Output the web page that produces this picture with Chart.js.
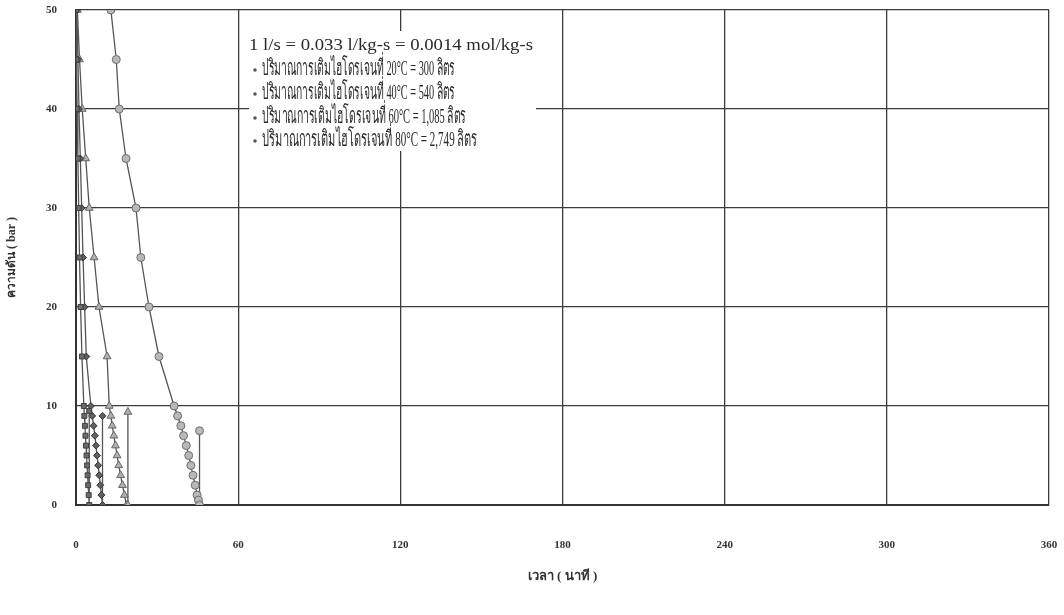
<!DOCTYPE html>
<html>
<head>
<meta charset="utf-8">
<script src="https://cdn.jsdelivr.net/npm/chart.js@4.4.1/dist/chart.umd.min.js"></script>
<style>
  html, body { margin: 0; padding: 0; background: #ffffff; }
  #wrap { width: 1064px; height: 615px; position: relative; }
</style>
</head>
<body>
<div id="wrap"><canvas id="c" width="1064" height="615"></canvas></div>
<script>
// Pressure (bar) against time (minutes) during hydrogen charging at four temperatures
const pressure20 = [50, 45, 40, 35, 30, 25, 20, 15, 10, 9, 8, 7, 6, 5, 4, 3, 2, 1, 0, 9.5];
const time20     = [0, 0.2, 0.4, 0.7, 1.0, 1.3, 1.7, 2.2, 2.9, 3.1, 3.3, 3.5, 3.7, 3.9, 4.1, 4.3, 4.5, 4.7, 4.9, 4.9];

const pressure40 = [50, 45, 40, 35, 30, 25, 20, 15, 10, 9, 8, 7, 6, 5, 4, 3, 2, 1, 0, 9];
const time40     = [0.3, 0.7, 1.1, 1.6, 2.1, 2.6, 3.2, 3.8, 5.5, 6.0, 6.5, 7.0, 7.4, 7.8, 8.2, 8.6, 9.0, 9.4, 9.8, 9.8];

const pressure60 = [50, 45, 40, 35, 30, 25, 20, 15, 10, 9, 8, 7, 6, 5, 4, 3, 2, 1, 0, 0, 9.4];
const time60     = [0.5, 1.3, 2.3, 3.6, 4.9, 6.7, 8.5, 11.5, 12.3, 12.9, 13.4, 14.0, 14.6, 15.2, 15.8, 16.5, 17.2, 17.9, 18.7, 19.2, 19.2];

const pressure80 = [50, 45, 40, 35, 30, 25, 20, 15, 10, 9, 8, 7, 6, 5, 4, 3, 2, 1, 0.5, 0, 7.5];
const time80     = [12.9, 14.9, 16.0, 18.5, 22.2, 24.0, 27.0, 30.7, 36.3, 37.6, 38.8, 39.8, 40.8, 41.7, 42.5, 43.3, 44.1, 44.8, 45.3, 45.7, 45.7];

const seriesLabels = [
  'ปริมาณการเติมไฮโดรเจนที่ 20°C = 300 ลิตร',
  'ปริมาณการเติมไฮโดรเจนที่ 40°C = 540 ลิตร',
  'ปริมาณการเติมไฮโดรเจนที่ 60°C = 1,085 ลิตร',
  'ปริมาณการเติมไฮโดรเจนที่ 80°C = 2,749 ลิตร'
];
const unitNote = '1 l/s = 0.033 l/kg-s = 0.0014 mol/kg-s';
const xTicks = [0, 60, 120, 180, 240, 300, 360];
const yTicks = [0, 10, 20, 30, 40, 50];
const xTitle = 'เวลา ( นาที )';
const yTitle = 'ความดัน ( bar )';

function pairs(t, p) { return t.map((v, i) => ({ x: v, y: p[i] })); }

const serif = "'Liberation Serif', 'DejaVu Serif', serif";
const markerStyles = [
  { pointStyle: 'rect', radius: 3.5, fill: '#6a6a6a', border: '#404040' },
  { pointStyle: 'rectRot', radius: 3.5, fill: '#606060', border: '#363636' },
  { pointStyle: 'triangle', radius: 4.5, fill: '#b0b0b0', border: '#666666' },
  { pointStyle: 'circle', radius: 4, fill: '#b8b8b8', border: '#6c6c6c' }
];
const dataSets = [pairs(time20, pressure20), pairs(time40, pressure40), pairs(time60, pressure60), pairs(time80, pressure80)];
const rowWidths = [193, 193, 204, 215];

// Legend block drawn inside the plot area on a white panel
const notePanel = {
  id: 'notePanel',
  afterDatasetsDraw(chart) {
    const ctx = chart.ctx;
    ctx.save();
    ctx.fillStyle = '#ffffff';
    ctx.fillRect(249, 31, 287, 120);
    ctx.fillStyle = '#2a2a2a';
    ctx.textBaseline = 'middle';
    ctx.font = "16px " + serif;
    const w = ctx.measureText(unitNote).width;
    ctx.save();
    ctx.translate(249, 46);
    ctx.scale(284 / w, 1);
    ctx.fillText(unitNote, 0, 0);
    ctx.restore();
    const rows = [69, 93, 117, 140];
    seriesLabels.forEach((txt, i) => {
      const y = rows[i];
      ctx.fillStyle = '#555';
      ctx.beginPath();
      ctx.arc(255, y + 1, 1.8, 0, Math.PI * 2);
      ctx.fill();
      ctx.fillStyle = '#2a2a2a';
      ctx.font = "22px " + serif;
      ctx.fillText(txt, 262, y, rowWidths[i]);
    });
    ctx.restore();
  }
};

new Chart(document.getElementById('c'), {
  type: 'scatter',
  data: {
    datasets: dataSets.map((d, i) => ({
      label: seriesLabels[i],
      data: d,
      showLine: true,
      borderColor: '#555555',
      borderWidth: 1.3,
      pointStyle: markerStyles[i].pointStyle,
      pointRadius: markerStyles[i].radius,
      pointBackgroundColor: markerStyles[i].fill,
      pointBorderColor: markerStyles[i].border,
      pointBorderWidth: 1,
      tension: 0
    }))
  },
  options: {
    responsive: false,
    animation: false,
    layout: { padding: { left: 0, right: 15, top: 10, bottom: 0 } },
    plugins: { legend: { display: false }, tooltip: { enabled: false } },
    scales: {
      x: {
        type: 'linear', min: 0, max: 360,
        afterBuildTicks(s) { s.ticks = xTicks.map(v => ({ value: v })); },
        afterFit(s) { s.height = 110; s.paddingLeft = 0; s.paddingRight = 0; },
        grid: { color: '#3c3c3c', lineWidth: 1.3, drawTicks: false },
        border: { color: '#333333', width: 2 },
        ticks: { padding: 34, color: '#333', font: { family: serif, size: 11, weight: 'bold' } },
        title: { display: true, text: xTitle, color: '#333', padding: { top: 0, bottom: 31 },
                 font: { family: serif, size: 13, weight: 'bold' } }
      },
      y: {
        type: 'linear', min: 0, max: 50,
        afterBuildTicks(s) { s.ticks = yTicks.map(v => ({ value: v })); },
        afterFit(s) { s.width = 76; s.paddingTop = 0; s.paddingBottom = 0; },
        grid: { color: '#3c3c3c', lineWidth: 1.3, drawTicks: false },
        border: { color: '#333333', width: 2 },
        ticks: { padding: 19, color: '#333', font: { family: serif, size: 11, weight: 'bold' } },
        title: { display: true, text: yTitle, color: '#333', padding: { top: 5, bottom: 0 },
                 font: { family: serif, size: 12, weight: 'bold' } }
      }
    }
  },
  plugins: [notePanel]
});
</script>
</body>
</html>
